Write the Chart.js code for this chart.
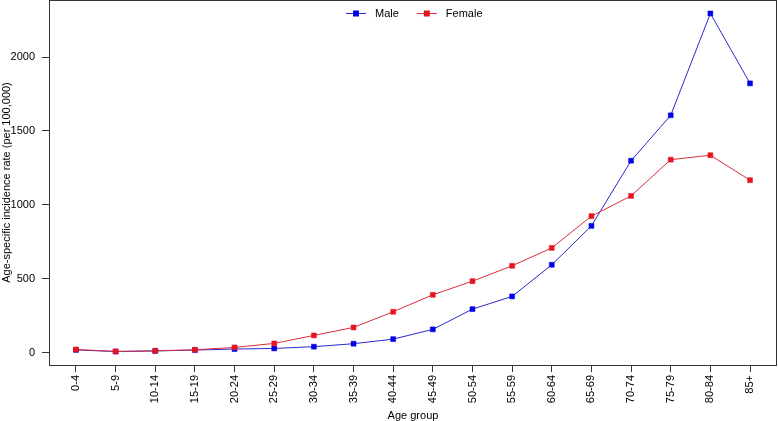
<!DOCTYPE html>
<html>
<head>
<meta charset="utf-8">
<script src="https://cdn.jsdelivr.net/npm/chart.js@4/dist/chart.umd.min.js"></script>
<style>
html,body{margin:0;padding:0;background:#fff;}
#wrap{width:778px;height:421px;}
</style>
</head>
<body>
<div id="wrap"><canvas id="c" width="778" height="421"></canvas></div>
<script>
const ageGroups = ['0-4','5-9','10-14','15-19','20-24','25-29','30-34','35-39','40-44','45-49','50-54','55-59','60-64','65-69','70-74','75-79','80-84','85+'];
const maleRates = [19, 8, 12, 18, 25, 29, 41, 61, 92, 158, 295, 381, 595, 858, 1299, 1606, 2295, 1822];
const femaleRates = [22, 9, 13, 20, 36, 63, 117, 171, 277, 392, 484, 588, 709, 924, 1061, 1306, 1336, 1167];
const yTicks = [0, 500, 1000, 1500, 2000];
const seriesNames = ['Male', 'Female'];

const FONT = 'Liberation Sans, Arial, Helvetica, sans-serif';
const toPoints = arr => arr.map((v, i) => ({x: i, y: v}));

const boxPlugin = {
  id: 'box',
  afterDraw(chart) {
    const {ctx, chartArea: a} = chart;
    ctx.save();
    ctx.strokeStyle = '#333';
    ctx.lineWidth = 1;
    ctx.strokeRect(a.left + 0.5, a.top + 0.5, a.right - a.left - 1, a.bottom - a.top);
    // legend
    ctx.font = '11px ' + FONT;
    ctx.textBaseline = 'middle';
    const y = 13.5;
    const items = chart.data.datasets.map(d => ({label: d.label, line: d.borderColor, pt: d.pointBackgroundColor}));
    const lineW = 20, gapTxt = 9, gapItem = 15;
    items.forEach(it => { it.w = ctx.measureText(it.label).width; });
    let x = 346;
    items.forEach((it, i) => {
      ctx.strokeStyle = it.line;
      ctx.lineWidth = 1;
      ctx.beginPath(); ctx.moveTo(x, y); ctx.lineTo(x + lineW, y); ctx.stroke();
      ctx.fillStyle = it.pt;
      ctx.fillRect(x + lineW / 2 - 3, y - 3, 6, 6);
      ctx.fillStyle = '#000';
      ctx.textAlign = 'left';
      ctx.fillText(it.label, x + lineW + gapTxt, y);
      x += lineW + gapTxt + it.w + gapItem + 3;
    });
    ctx.restore();
  }
};

new Chart(document.getElementById('c'), {
  type: 'line',
  data: {
    datasets: [
      {
        label: seriesNames[0],
        data: toPoints(maleRates),
        borderColor: 'rgb(40,40,205)',
        backgroundColor: 'rgb(0,0,230)',
        pointBackgroundColor: 'rgb(0,0,230)',
        pointBorderColor: 'rgb(0,0,230)',
        borderWidth: 1,
        pointStyle: 'rect',
        pointRadius: 3.5,
        pointBorderWidth: 0.5,
        tension: 0,
        order: 1
      },
      {
        label: seriesNames[1],
        data: toPoints(femaleRates),
        borderColor: 'rgb(215,45,55)',
        backgroundColor: 'rgb(230,20,30)',
        pointBackgroundColor: 'rgb(230,20,30)',
        pointBorderColor: 'rgb(230,20,30)',
        borderWidth: 1,
        pointStyle: 'rect',
        pointRadius: 3.5,
        pointBorderWidth: 0.5,
        tension: 0,
        order: 0
      }
    ]
  },
  options: {
    responsive: false,
    animation: false,
    events: [],
    layout: {autoPadding: false, padding: {top: 0, right: 1, left: 0, bottom: 0}},
    plugins: {legend: {display: false}, tooltip: {enabled: false}},
    scales: {
      x: {
        type: 'linear',
        min: -0.68,
        max: ageGroups.length - 1 + 0.68,
        afterBuildTicks: s => { s.ticks = ageGroups.map((_, i) => ({value: i})); },
        afterFit: s => { s.height = 56; s.paddingLeft = 0; s.paddingRight = 0; },
        border: {display: false},
        grid: {drawOnChartArea: false, drawTicks: true, tickLength: 7, color: '#333', tickWidth: 1},
        ticks: {
          autoSkip: false, maxRotation: 90, minRotation: 90, padding: 3,
          color: '#000', font: {family: FONT, size: 11},
          callback: v => ageGroups[v]
        },
        title: {display: true, text: 'Age group', color: '#000', font: {family: FONT, size: 11}, padding: {top: 0, bottom: -2}}
      },
      y: {
        type: 'linear',
        min: -83,
        max: 2386,
        afterBuildTicks: s => { s.ticks = yTicks.map(v => ({value: v})); },
        afterFit: s => { s.width = 49; s.paddingTop = 0; s.paddingBottom = 0; },
        border: {display: false},
        grid: {drawOnChartArea: false, drawTicks: true, tickLength: 7, color: '#333', tickWidth: 1},
        ticks: {padding: 7, color: '#000', font: {family: FONT, size: 11}, callback: v => String(v)},
        title: {display: true, text: 'Age-specific incidence rate (per 100,000)', color: '#000', font: {family: FONT, size: 11}, padding: {top: 0, bottom: 0}}
      }
    }
  },
  plugins: [boxPlugin]
});
</script>
</body>
</html>
